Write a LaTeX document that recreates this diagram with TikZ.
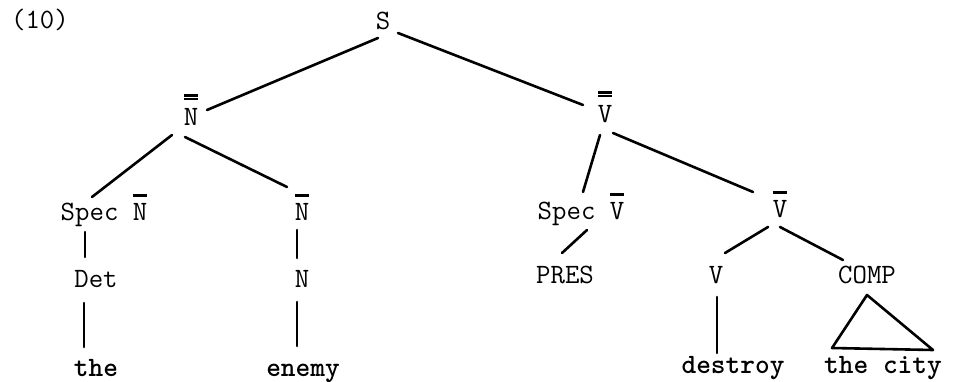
\documentclass[tikz,border=0pt]{standalone}
\usetikzlibrary{calc}
\newcommand{\sbar}[1]{\vbox{\hrule height 2.8pt\kern 7pt\hbox{#1}}}
\newcommand{\dbar}[1]{\vbox{\hrule height 2.2pt\kern 1.6pt\hrule height 2.2pt\kern 8.5pt\hbox{#1}}}
\tikzset{
  lab/.style={anchor=base, inner sep=0pt, font=\ttfamily\fontsize{28}{30}\selectfont},
  word/.style={lab, font=\ttfamily\bfseries\fontsize{28}{30}\selectfont},
  branch/.style={line width=2.6pt, line cap=round, line join=round}
}
\begin{document}
\begin{tikzpicture}[x=1pt,y=-1pt]
\useasboundingbox (0,0) rectangle (953,382);
% nodes
\node[lab] (num) at (40,29) {(10)};
\node[lab] (S) at (383,30) {S};
\node[lab] (NP) at (191,126) {\dbar{N}};
\node[lab] (VP) at (605,123) {\dbar{V}};
\node[lab] (specN) at (104,221) {Spec \sbar{N}};
\node[lab] (Nbar) at (302,221) {\sbar{N}};
\node[lab] (Det) at (96,287) {Det};
\node[lab] (N) at (302,287) {N};
\node[word] (the) at (96,376) {the};
\node[word] (enemy) at (303,376) {enemy};
\node[lab] (specV) at (581,220) {Spec \sbar{V}};
\node[lab] (Vbar) at (780,218) {\sbar{V}};
\node[lab] (PRES) at (565,283) {PRES};
\node[lab] (V) at (716,283) {V};
\node[lab] (COMP) at (867,283) {COMP};
\node[word] (destroy) at (733,373) {destroy};
\node[word] (thecity) at (883,373) {the city};
% branches
\draw[branch] ($(S.base)+(-5,8)$) -- ($(NP.base)+(16,-16)$);
\draw[branch] ($(S.base)+(15,3)$) -- ($(VP.base)+(-22,-18)$);
\draw[branch] ($(NP.base)+(-19,9)$) -- ($(specN.base)+(-12,-24)$);
\draw[branch] ($(NP.base)+(-6,11)$) -- ($(Nbar.base)+(-15,-34)$);
\draw[branch] ($(specN.base)+(-19,11)$) -- ($(Det.base)+(-11,-30)$);
\draw[branch] ($(Nbar.base)+(-5,9)$) -- ($(N.base)+(-5,-29)$);
\draw[branch] ($(Det.base)+(-12,16)$) -- ($(the.base)+(-12,-29)$);
\draw[branch] ($(N.base)+(-5,15)$) -- ($(enemy.base)+(-6,-30)$);
\draw[branch] ($(VP.base)+(-5,12)$) -- ($(specV.base)+(2,-28)$);
\draw[branch] ($(VP.base)+(8,10)$) -- ($(Vbar.base)+(-27,-26)$);
\draw[branch] ($(specV.base)+(6,10)$) -- ($(PRES.base)+(-3,-30)$);
\draw[branch] ($(Vbar.base)+(-12,9)$) -- ($(V.base)+(9,-30)$);
\draw[branch] ($(Vbar.base)+(0,9)$) -- ($(COMP.base)+(-24,-23)$);
\draw[branch] ($(V.base)+(1,14)$) -- ($(destroy.base)+(-16,-20)$);
\draw[branch] ($(COMP.base)+(0,12)$) -- ($(thecity.base)+(-51,-25)$) -- ($(thecity.base)+(50,-23)$) -- cycle;
\end{tikzpicture}
\end{document}
